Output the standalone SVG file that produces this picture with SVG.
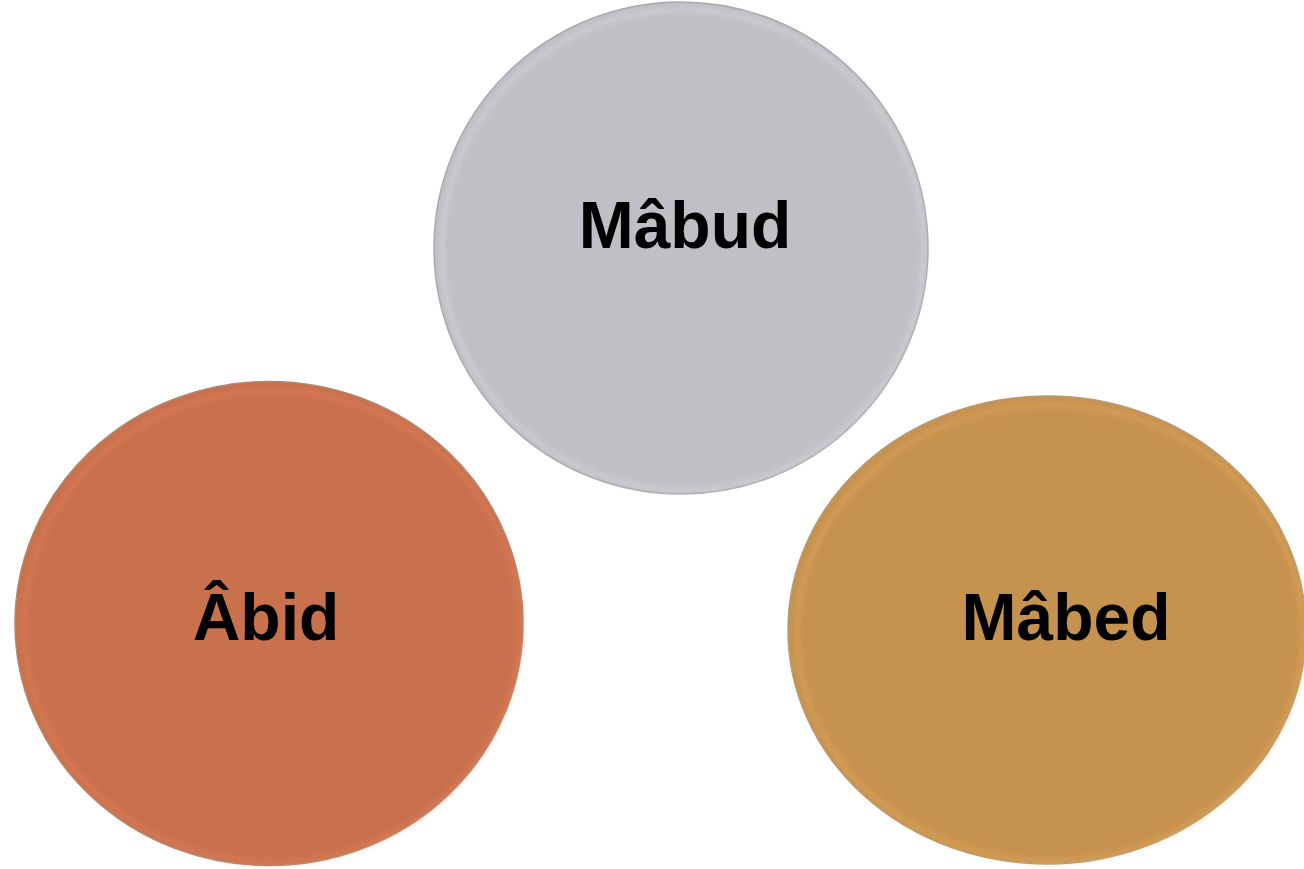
<svg xmlns="http://www.w3.org/2000/svg" width="1304" height="869" viewBox="0 0 1304 869">
<style>
.lbl{font-family:"Liberation Sans",Arial,sans-serif;font-weight:bold;font-size:66px;fill:#000;text-anchor:middle}
.hl{fill:none;stroke-width:5;opacity:0.35}
</style>
<defs>
<filter id="soft" x="-5%" y="-5%" width="110%" height="110%"><feGaussianBlur stdDeviation="2.5"/></filter>
</defs>
<rect width="1304" height="869" fill="#fff"/>
<g id="mabud">
<ellipse cx="681" cy="248" rx="247" ry="246" fill="#c0bfc5" stroke="#a9a8ad" stroke-width="1.5"/>
<ellipse cx="680" cy="247" rx="241" ry="240" class="hl" stroke="#e4e3e8" filter="url(#soft)" transform="translate(3,3)"/>
<text class="lbl" x="685" y="248">Mâbud</text>
</g>
<g id="abid">
<ellipse cx="269" cy="623.5" rx="254" ry="242" fill="#c9704d" stroke="#b2876f" stroke-width="1.5"/>
<ellipse cx="269" cy="623.5" rx="248" ry="236" class="hl" stroke="#ee8a60" filter="url(#soft)" transform="translate(3,3)"/>
<text class="lbl" x="266" y="640">Âbid</text>
</g>
<g id="mabed">
<ellipse cx="1047" cy="630" rx="259" ry="234" fill="#c6924f" stroke="#b89a72" stroke-width="1.5"/>
<ellipse cx="1047" cy="630" rx="253" ry="228" class="hl" stroke="#f0b464" filter="url(#soft)" transform="translate(3,3)"/>
<text class="lbl" x="1066" y="640">Mâbed</text>
</g>
<g id="connectors"/>
</svg>
